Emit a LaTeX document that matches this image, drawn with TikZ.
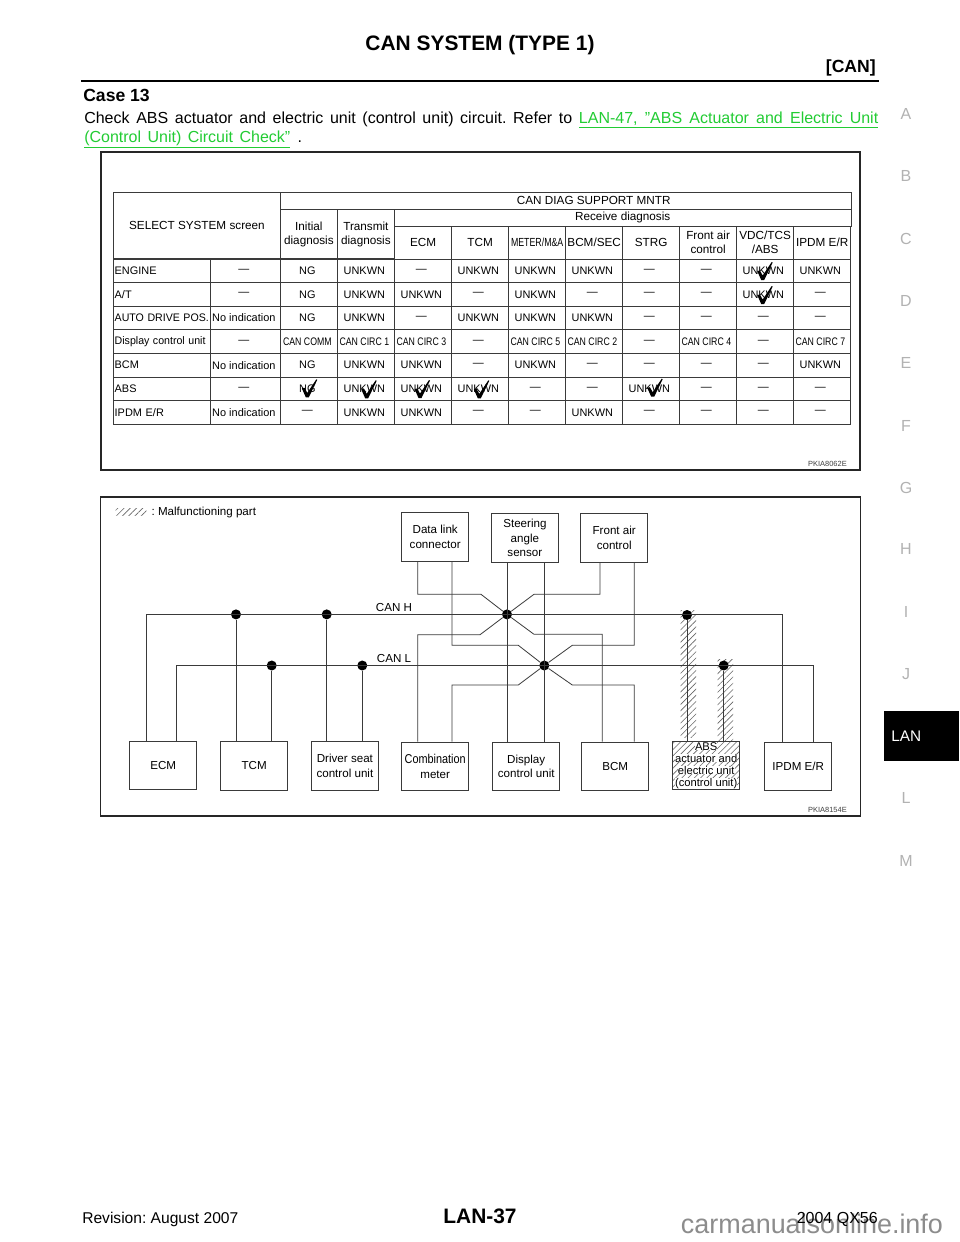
\documentclass[tikz,border=0pt]{standalone}
\usepackage{fontspec}
\setmainfont{Liberation Sans}
\usetikzlibrary{positioning,matrix,patterns.meta}
\definecolor{linkgreen}{HTML}{22CC33}
\definecolor{wire}{HTML}{3A3A3A}
\newcommand\lk[2]{\textcolor{linkgreen}{\underline{\hbox to #1{#2}}}}
\newcommand\nar[1]{\scalebox{.8}[1]{#1}}
\newcommand\nal[1]{\scalebox{.97}[1]{#1}}
\newcommand\hl[1]{\colorbox{white}{#1}}
\newcommand\tight{\lineskiplimit-5pt\relax}
\setlength{\fboxsep}{0pt}
\frenchspacing

\begin{document}
\begin{tikzpicture}
  [x=.75pt,y=-.75pt,
    n/.style={draw=wire,line width=.6pt,inner sep=0pt,align=center,
      font=\fontsize{8.2pt}{10.5pt}\selectfont},
    hd/.style={n,anchor=north west,font=\fontsize{8.8pt}{10.5pt}\selectfont},
    rh/.style={hd,anchor=center,minimum width=42.75pt,minimum height=24.5pt},
    frame/.style={draw=black!85,line width=1.3pt,anchor=north west,outer sep=0pt},
    box/.style={n,minimum width=50.25pt,minimum height=36.5pt,
      font=\fontsize{8.7pt}{10.8pt}\selectfont},
    dot/.style={circle,fill=black,inner sep=0pt,minimum size=7.5pt},
    wr/.style={draw=wire,line width=.6pt},
    hatch/.style={pattern={Lines[angle=45,distance=3.3pt,line width=.45pt]},
      pattern color=black!60},
    small/.style={font=\fontsize{5.6pt}{7pt}\selectfont,text=black!75,inner sep=0pt},
    tab/.style={font=\fontsize{12pt}{14pt}\selectfont,text=black!30,inner sep=0pt},
    chk/.pic={\fill (-5.5,-9) -- (-2.8,-9.5) -- (0,-4.5) -- (9,-18) -- (10,-17.5)
      -- (1.5,0) -- (-1.5,0) -- cycle;}]
  \fill[white] (0,0) rectangle (960,1242);
  \useasboundingbox (0,0) rectangle (960,1242);

  \node[font=\bfseries\fontsize{15.7pt}{18pt}\selectfont,inner sep=0pt] (title) at (480,45) {CAN SYSTEM (TYPE 1)};
  \node[font=\bfseries\fontsize{13.2pt}{16pt}\selectfont,inner sep=0pt,anchor=east] (sec) at (876,68) {[CAN]};
  \coordinate (r1) at (81,81);
  \coordinate (r2) at (879,81);
  \draw[line width=2.2pt] (r1) -- (r2);
  \node[font=\bfseries\fontsize{13.2pt}{16pt}\selectfont,inner sep=0pt,anchor=base west] (case) at (83,101) {Case 13};
  \node[font=\fontsize{12pt}{14pt}\selectfont,inner sep=0pt,anchor=base west] (line1) at (84,123)
    {\hbox to 595.5pt{Check ABS actuator and electric unit (control unit) circuit. Refer to \lk{224.5pt}{LAN-47, "ABS Actuator and Electric Unit}}};
  \node[font=\fontsize{12pt}{14pt}\selectfont,inner sep=0pt,anchor=base west] (line2) at (84,142)
    {\lk{154.5pt}{(Control Unit) Circuit Check"}\hspace{5.5pt}.};

  \foreach \l/\yy in {A/114,B/176,C/239,D/301,E/363,F/426,G/488,H/549,I/612,J/674,L/798,M/861}
    \node[tab] (t\l) at (906,\yy) {\l};
  \node[fill=black,text=white,anchor=north west,inner ysep=0pt,inner xsep=5.25pt,
    text width=45.75pt,minimum height=37.5pt,
    font=\fontsize{11.5pt}{14pt}\selectfont] (tLAN) at (884,711) {LAN};

  \node[frame,minimum width=569.25pt,minimum height=238.5pt] (F1) at (101,152) {};
  \node[hd,minimum width=125.75pt,minimum height=49.7pt] (sel) at (112.7,192) {SELECT SYSTEM screen};
  \node[hd,minimum width=428pt,minimum height=12.75pt] (mntr) at (280,192) {\hspace*{42pt}CAN DIAG SUPPORT MNTR};
  \node[hd,minimum width=42.75pt,minimum height=37pt] (init) at (280,209) {Initial\\diagnosis};
  \node[hd,minimum width=42.75pt,minimum height=37pt] (trans) at (337,209) {Transmit\\diagnosis};
  \node[hd,minimum width=342.5pt,minimum height=12.5pt] (rcv) at (394,209) {Receive diagnosis};
  \matrix[anchor=north west,inner sep=0pt,column sep=-.6pt] (R) at (394,225.7) {
    \node[rh] (rECM) {ECM}; &
    \node[rh] (rTCM) {TCM}; &
    \node[rh] (rMET) {\scalebox{.75}[1]{METER/M\&A}}; &
    \node[rh] (rBCM) {BCM/SEC}; &
    \node[rh] (rSTR) {STRG}; &
    \node[rh] (rFAC) {Front air\\control}; &
    \node[rh] (rVDC) {VDC/TCS\\/ABS}; &
    \node[rh] (rIPD) {IPDM E/R}; \\
  };
  \matrix[matrix of nodes,anchor=north west,inner sep=0pt,column sep=-.6pt,row sep=-.6pt,
    nodes={n,anchor=center,minimum width=42.75pt,minimum height=17.7pt},
    column 1/.style={nodes={minimum width=72.75pt,text width=70.75pt,align=left}},
    column 2/.style={nodes={minimum width=52.5pt}}] (M) at (112.7,258.3) {
    ENGINE & — & NG & UNKWN & — & UNKWN & UNKWN & UNKWN & — & — & UNKWN & UNKWN \\
    A/T & — & NG & UNKWN & UNKWN & — & UNKWN & — & — & — & UNKWN & — \\
    \nal{AUTO DRIVE POS.} & No indication & NG & UNKWN & — & UNKWN & UNKWN & UNKWN & — & — & — & — \\
    \nal{Display control unit} & — & \nar{CAN COMM} & \nar{CAN CIRC 1} & \nar{CAN CIRC 3} & — & \nar{CAN CIRC 5} & \nar{CAN CIRC 2} & — & \nar{CAN CIRC 4} & — & \nar{CAN CIRC 7} \\
    BCM & No indication & NG & UNKWN & UNKWN & — & UNKWN & — & — & — & — & UNKWN \\
    ABS & — & NG & UNKWN & UNKWN & UNKWN & — & — & UNKWN & — & — & — \\
    IPDM E/R & No indication & — & UNKWN & UNKWN & — & — & UNKWN & — & — & — & — \\
  };
  \pic at (307.3,397.3) {chk};
  \pic at (366.7,398.3) {chk};
  \pic at (420,398) {chk};
  \pic at (479.3,398.3) {chk};
  \pic at (652.7,396.7) {chk};
  \pic at (762.7,280) {chk};
  \pic at (762.7,304) {chk};
  \node[small,anchor=east] (code1) at (847,464) {PKIA8062E};

  \node[frame,minimum width=570pt,minimum height=239.25pt] (F2) at (100.5,497) {};
  \node[hatch,minimum width=23pt,minimum height=5.6pt,inner sep=0pt] (leg) at (131,512) {};
  \node[font=\fontsize{8.7pt}{10.8pt}\selectfont,inner sep=0pt,right=3.5pt of leg] (legt) {: Malfunctioning part};

  \node[hatch,anchor=north west,minimum width=11.7pt,minimum height=95.5pt,inner sep=0pt] (b1) at (680.3,610) {};
  \node[hatch,anchor=north west,minimum width=11.7pt,minimum height=61pt,inner sep=0pt] (b2) at (717.3,659.3) {};

  \node[box,anchor=north west] (dlc) at (401.3,512.3) {Data link\\connector};
  \node[box,anchor=north west] (sas) at (491,513.3) {Steering\\angle\\sensor};
  \node[box,anchor=north west] (fac) at (580.3,513.3) {Front air\\control};
  \node[box,anchor=north west] (ecm) at (129.3,740.7) {ECM};
  \node[box,anchor=north west] (tcm) at (220.3,741) {TCM};
  \node[box,anchor=north west] (dsc) at (311,741) {Driver seat\\control unit};
  \node[box,anchor=north west] (cmb) at (401.3,741.7) {\scalebox{.85}[1]{\fontsize{9.6pt}{10.8pt}\selectfont Combination}\\meter};
  \node[box,anchor=north west] (dcu) at (492.3,741.7) {Display\\control unit};
  \node[box,anchor=north west] (bcm) at (581.3,741.7) {BCM};
  \node[box,anchor=north west,hatch,font=\fontsize{8.4pt}{9pt}\selectfont\tight] (abs) at (672.3,740.7)
    {\hl{ABS}\\\hl{actuator and}\\\hl{electric unit}\\\hl{(control unit)}};
  \node[box,anchor=north west] (ipd) at (764.3,741.7) {IPDM E/R};

  \node[dot] (hubH) at (507,614.4) {};
  \node[dot] (hubL) at (544.3,665.5) {};
  \node[dot] (dT) at (236,614.4) {};
  \node[dot] (dD) at (326.7,614.4) {};
  \node[dot] (dA) at (687,615) {};
  \node[dot] (lT) at (271.7,665.5) {};
  \node[dot] (lD) at (362.3,665.5) {};
  \node[dot] (lA) at (723.7,665.5) {};
  \coordinate (eH) at (146,614.4);
  \coordinate (eL) at (176.7,665.5);
  \coordinate (iH) at (782.7,614.4);
  \coordinate (iL) at (813.7,665.5);

  \draw[wr] (ecm.north -| eH) -- (eH) -- (iH) -- (ipd.north -| iH);
  \draw[wr] (ecm.north -| eL) -- (eL) -- (iL) -- (ipd.north -| iL);
  \draw[wr] (tcm.north -| dT) -- (dT);
  \draw[wr] (dsc.north -| dD) -- (dD);
  \draw[wr] (tcm.north -| lT) -- (lT);
  \draw[wr] (dsc.north -| lD) -- (lD);
  \draw[wr] (abs.north -| dA) -- (dA);
  \draw[wr] (abs.north -| lA) -- (lA);
  \draw[wr] (sas.south -| hubH) -- (dcu.north -| hubH);
  \draw[wr] (sas.south -| hubL) -- (dcu.north -| hubL);
  \draw[wr] (dlc.south -| 417.7,0) |- (481,594.3) -- (hubH);
  \draw[wr] (dlc.south -| 452,0) |- (518.3,645.3) -- (hubL);
  \draw[wr] (cmb.north -| 417.7,0) |- (480,634.7) -- (hubH);
  \draw[wr] (cmb.north -| 452,0) |- (518.3,685) -- (hubL);
  \draw[wr] (fac.south -| 600,0) |- (534,594.3) -- (hubH);
  \draw[wr] (fac.south -| 634.3,0) |- (572.3,645.3) -- (hubL);
  \draw[wr] (bcm.north -| 602.3,0) |- (534,634.3) -- (hubH);
  \draw[wr] (bcm.north -| 634.3,0) |- (572.3,685) -- (hubL);

  \node[font=\fontsize{8.7pt}{10.8pt}\selectfont,inner sep=0pt] (canh) at (394,607) {CAN H};
  \node[font=\fontsize{8.7pt}{10.8pt}\selectfont,inner sep=0pt] (canl) at (394,658.5) {CAN L};
  \node[small,anchor=east] (code2) at (847,810) {PKIA8154E};

  \node[font=\fontsize{20.2pt}{24pt}\selectfont,text=black!45,inner sep=0pt,anchor=base west] (wm) at (680.7,1233) {carmanualsonline.info};
  \node[font=\fontsize{11.7pt}{14pt}\selectfont,inner sep=0pt,anchor=base west] (rev) at (82,1223) {Revision: August 2007};
  \node[font=\bfseries\fontsize{15.7pt}{18pt}\selectfont,inner sep=0pt] (pg) at (480,1216) {LAN-37};
  \node[font=\fontsize{12pt}{14pt}\selectfont,inner sep=0pt,anchor=base east] (yr) at (878,1223) {2004 QX56};
\end{tikzpicture}
\end{document}
